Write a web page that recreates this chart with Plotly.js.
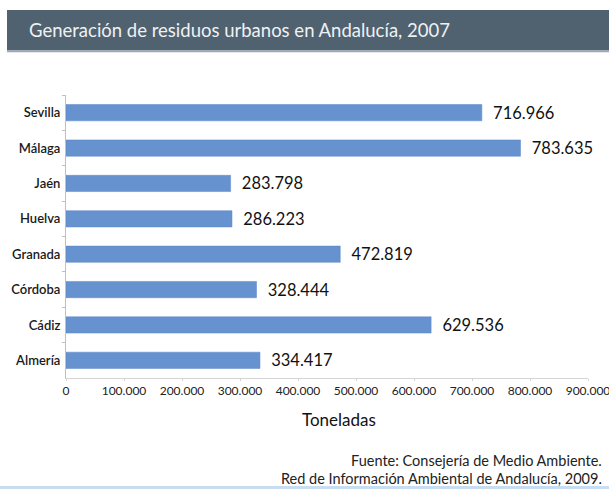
<!DOCTYPE html>
<html>
<head>
<meta charset="utf-8">
<script src="https://cdn.plot.ly/plotly-3.0.1.min.js"></script>
<style>html,body{margin:0;padding:0;background:#fff;overflow:hidden;}#chart{width:609px;height:489px;}</style>
</head>
<body>
<div id="chart"></div>
<script>
const provincias = ["Sevilla", "Málaga", "Jaén", "Huelva", "Granada", "Córdoba", "Cádiz", "Almería"];
const toneladas = [716966, 783635, 283798, 286223, 472819, 328444, 629536, 334417];
const xTicks = [0, 100000, 200000, 300000, 400000, 500000, 600000, 700000, 800000, 900000];

const FONT = "Lato, 'Open Sans', sans-serif";
const L = 66, R = 588, T = 95, B = 378;
const px = v => (v - L) / (R - L);
const py = v => (B - v) / (B - T);

const trace = {
  type: "bar",
  orientation: "h",
  y: provincias,
  x: toneladas,
  marker: {color: "#6792d0", line: {color: "#5a86c6", width: 0.5}},
  texttemplate: "\u2002%{x:,d}",
  textposition: "outside",
  constraintext: "none",
  cliponaxis: false,
  textfont: {family: FONT, size: 16.5, color: "#111"},
  hoverinfo: "skip"
};

const layout = {
  width: 609, height: 489,
  margin: {l: L, r: 609 - R, t: T, b: 489 - B, pad: 0},
  paper_bgcolor: "#ffffff",
  plot_bgcolor: "#ffffff",
  separators: ",.",
  bargap: 0.54,
  showlegend: false,
  font: {family: FONT, color: "#222"},
  title: {
    text: "Generación de residuos urbanos en Andalucía, 2007",
    x: 29 / 609, xanchor: "left", xref: "container",
    y: 1 - 31 / 489, yanchor: "middle", yref: "container",
    font: {family: FONT, size: 18.5, color: "#eef1f3"}
  },
  xaxis: {
    range: [0, 900000],
    tickvals: xTicks,
    tickformat: ",d",
    tickfont: {family: FONT, size: 12, color: "#222"},
    ticklabeloverflow: "allow",
    showgrid: false, zeroline: false,
    showline: true, linecolor: "#d4d4d4", linewidth: 1,
    ticks: "outside", ticklen: 2, tickcolor: "#d4d4d4",
    fixedrange: true
  },
  yaxis: {
    autorange: "reversed",
    type: "category",
    tickfont: {family: FONT, size: 13, color: "#1a1a1a", weight: 600},
    showgrid: false, zeroline: false,
    showline: true, linecolor: "#c0c0c0", linewidth: 1,
    ticks: "outside", ticklen: 3, tickcolor: "#c0c0c0",
    tickson: "boundaries",
    ticklabelstandoff: 2,
    fixedrange: true
  },
  shapes: [
    {type: "rect", xref: "paper", yref: "paper", x0: px(7), x1: px(612), y0: py(50.5), y1: py(10),
     fillcolor: "#506170", line: {width: 0}, layer: "below"},
    {type: "line", xref: "paper", yref: "paper", x0: px(7), x1: px(612), y0: py(51.5), y1: py(51.5),
     line: {color: "#9aa8b6", width: 1.5}},
    {type: "line", xref: "paper", yref: "paper", x0: px(0), x1: px(612), y0: py(487.5), y1: py(487.5),
     line: {color: "#c8def0", width: 3}}
  ],
  annotations: [
    {text: "Toneladas", xref: "paper", yref: "paper", x: px(339), y: py(419),
     xanchor: "center", yanchor: "middle", showarrow: false,
     font: {family: FONT, size: 17, color: "#111"}},
    {text: "Fuente: Consejería de Medio Ambiente.",
     xref: "paper", yref: "paper", x: px(604), y: py(461),
     xanchor: "right", yanchor: "middle", align: "right", showarrow: false,
     font: {family: FONT, size: 14.5, color: "#222"}},
    {text: "Red de Información Ambiental de Andalucía, 2009.",
     xref: "paper", yref: "paper", x: px(604), y: py(478),
     xanchor: "right", yanchor: "middle", align: "right", showarrow: false,
     font: {family: FONT, size: 14.5, color: "#222"}}
  ]
};

Plotly.newPlot("chart", [trace], layout, {displayModeBar: false, staticPlot: true});
</script>
</body>
</html>
